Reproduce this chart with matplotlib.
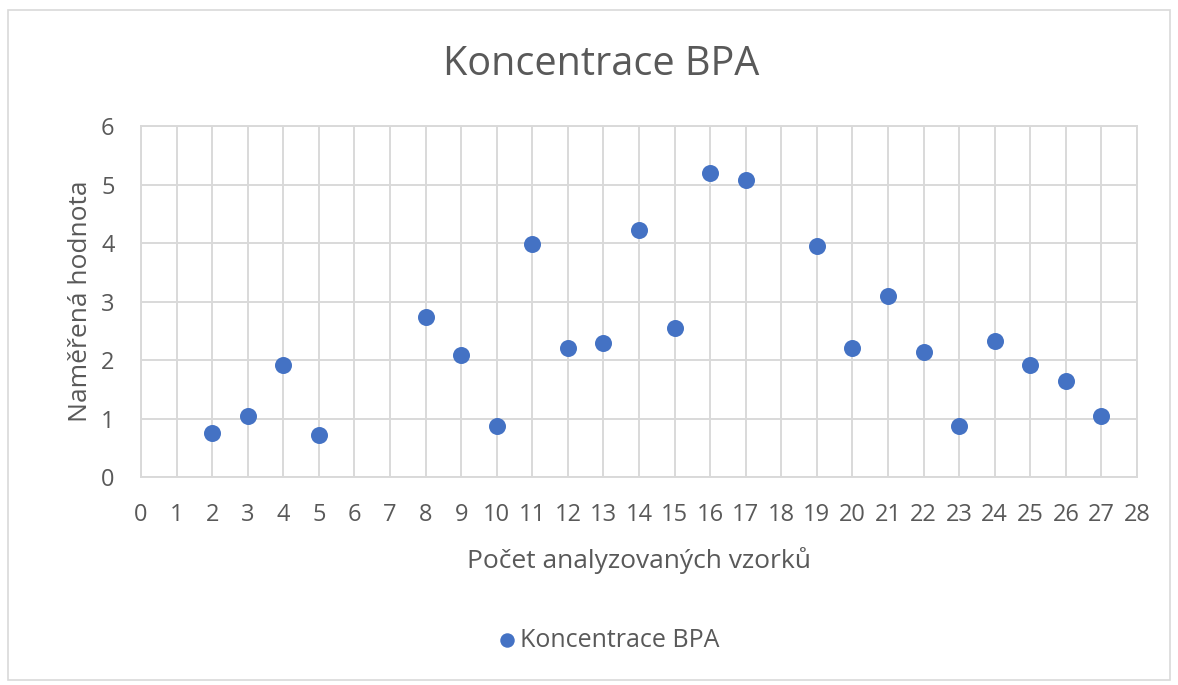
import matplotlib.pyplot as plt
from matplotlib.patches import Rectangle

plt.rcParams['font.family'] = ['Open Sans', 'DejaVu Sans']

# data
samples = [2, 3, 4, 5, 8, 9, 10, 11, 12, 13, 14, 15, 16, 17,
           19, 20, 21, 22, 23, 24, 25, 26, 27]
values = [0.75, 1.04, 1.92, 0.71, 2.73, 2.09, 0.88, 3.98, 2.21, 2.29,
          4.22, 2.54, 5.19, 5.07, 3.95, 2.21, 3.09, 2.13, 0.88, 2.33,
          1.92, 1.64, 1.04]
x_ticks = list(range(0, 29))
y_ticks = list(range(0, 7))

grey = "#595959"
blue = "#4472C4"

fig = plt.figure(figsize=(11.78, 6.85), dpi=100)
ax = fig.add_axes([0.1197, 0.3036, 0.8455, 0.5124])

# outer chart border
fig.patches.append(Rectangle((0.007, 0.007), 0.986, 0.978,
                             transform=fig.transFigure, fill=False,
                             edgecolor="#D9D9D9", linewidth=1.2))

ax.scatter(samples, values, s=150, color=blue, zorder=3,
           label="Koncentrace BPA", linewidths=0)

ax.set_xlim(0, 28)
ax.set_ylim(0, 6)
ax.set_xticks(x_ticks)
ax.set_yticks(y_ticks)
ax.grid(True, color="#D9D9D9", linewidth=1.4)
ax.set_axisbelow(True)
for s in ax.spines.values():
    s.set_color("#D9D9D9")
    s.set_linewidth(1.4)
ax.tick_params(length=0, labelsize=17, colors=grey)
ax.tick_params(axis="x", pad=19)
ax.tick_params(axis="y", pad=19)

ax.set_xlabel("Počet analyzovaných vzorků", fontsize=19, color=grey, labelpad=14)
ax.set_ylabel("Naměřená hodnota", fontsize=19, color=grey, labelpad=6)

fig.text(0.51, 0.905, "Koncentrace BPA", ha="center", va="center",
         fontsize=28.5, color=grey)

leg = fig.legend(loc="center", bbox_to_anchor=(0.512, 0.065), frameon=False,
                 fontsize=18, handletextpad=-0.3, handlelength=1.6,
                 markerscale=0.85)
for t in leg.get_texts():
    t.set_color(grey)

fig.savefig("out.png", dpi=100)
